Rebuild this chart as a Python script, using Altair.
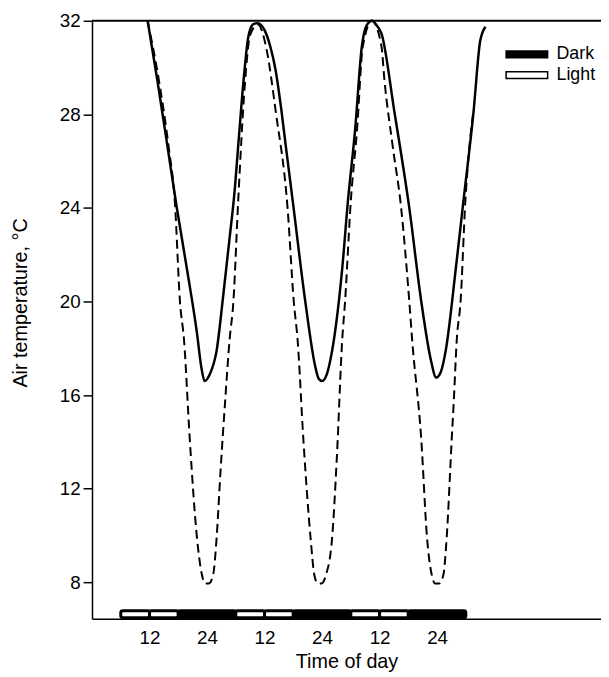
import altair as alt
import pandas as pd

# ---- values ----
# solid curve: time (h, continuous over three days) / air temperature (°C)
solid_time = [11.6, 13.6, 15.7, 17.7, 19.8, 21.9, 22.8, 23.5, 24.6, 26.0, 27.4, 28.7, 29.7,
              30.6, 31.6, 32.6, 33.6, 34.6, 36.0, 37.2, 38.3, 39.5, 40.4, 42.0, 44.5, 46.6,
              47.3, 48.0, 49.0, 50.1, 52.2, 53.4, 54.9, 56.3, 57.3, 58.4, 59.4, 60.4, 63.1,
              66.2, 68.7, 70.7, 71.8, 72.8, 73.8, 75.9, 77.5, 79.6, 81.0, 82.1]
solid_temp = [32.0, 29.5, 26.7, 24.0, 21.4, 18.65, 17.2, 16.6, 16.9, 17.9, 20.3, 22.7, 24.6,
              26.9, 29.4, 31.3, 31.85, 31.9, 31.6, 30.9, 29.9, 28.2, 26.7, 24.1, 20.0, 17.2,
              16.7, 16.6, 16.9, 17.9, 21.4, 24.3, 27.35, 30.9, 31.8, 32.0, 31.8, 31.45, 28.1,
              24.0, 20.0, 17.5, 16.75, 17.0, 17.9, 21.4, 24.3, 28.1, 31.15, 31.75]

# dashed curve
dashed_time = [11.6, 14.0, 16.0, 17.3, 18.35, 19.2, 20.4, 21.9, 22.9, 23.6, 24.4, 25.3, 26.0,
               26.8, 27.8, 28.7, 29.5, 30.5, 31.9, 33.0, 34.6,
               36.3, 38.35, 40.8, 42.1, 42.9, 44.1, 45.6, 46.4, 47.1, 47.9, 48.8, 50.1, 51.1,
               52.2, 52.8, 54.0, 55.3, 56.5, 58.4,
               60.4, 61.0, 62.7, 64.5, 66.2, 66.8, 68.7, 69.9, 70.9, 71.6, 72.4, 73.3, 74.0,
               75.05, 75.5, 76.1, 76.9, 77.9, 78.6, 79.5]
dashed_temp = [32.0, 29.4, 26.6, 24.2, 20.0, 18.35, 14.1, 9.9, 8.35, 7.95, 7.95, 8.35, 9.9,
               12.7, 15.8, 18.35, 20.0, 24.3, 29.3, 31.4, 31.85,
               30.9, 28.1, 24.0, 20.0, 18.35, 14.1, 9.9, 8.3, 7.95, 7.95, 8.3, 9.9, 13.4,
               18.35, 20.0, 24.3, 27.35, 30.9, 32.0,
               30.9, 29.5, 26.7, 24.0, 20.0, 18.35, 14.1, 9.9, 8.3, 7.95, 7.95, 8.3, 9.9,
               14.1, 15.8, 18.35, 20.0, 24.3, 26.3, 28.0]

# light / dark bar along the time axis
seg_start = [6, 12, 18, 30, 36, 42, 54, 60, 66]
seg_end = [12, 18, 30, 36, 42, 54, 60, 66, 78]
seg_phase = ["Light", "Light", "Dark", "Light", "Light", "Dark", "Light", "Light", "Dark"]
legend_labels = ["Dark", "Light"]
legend_colors = ["black", "white"]

y_ticks = [8, 12, 16, 20, 24, 28, 32]
x_ticks = [12, 24, 36, 48, 60, 72]
x_tick_labels = ["12", "24", "12", "24", "12", "24"]
top_value = [32]

x_domain = [0, 106.2]
y_domain = [6.44, 32]

FONT = "Liberation Sans"

solid_df = pd.DataFrame({"t": solid_time, "temp": solid_temp})
dashed_df = pd.DataFrame({"t": dashed_time, "temp": dashed_temp})
seg_df = pd.DataFrame({"start": seg_start, "end": seg_end, "phase": seg_phase})
top_df = pd.DataFrame({"v": top_value})

label_expr = " : ".join(
    f"datum.value == {v} ? '{l}'" for v, l in zip(x_ticks, x_tick_labels)
) + " : ''"

x_scale = alt.Scale(domain=x_domain, nice=False, zero=False)
y_scale = alt.Scale(domain=y_domain, nice=False, zero=False)

x_axis = alt.Axis(
    values=x_ticks, labelExpr=label_expr, ticks=False, tickSize=0, labelPadding=10,
    grid=False, title="Time of day", titleY=49, titleBaseline="alphabetic",
    labelFontSize=19, titleFontSize=20,
)
y_axis = alt.Axis(
    values=y_ticks, tickSize=9, labelPadding=3, grid=False,
    title="Air temperature, °C", titleAngle=-90, titleX=-66, titleY=285,
    titleBaseline="alphabetic", titleAlign="center",
    labelFontSize=19, titleFontSize=20,
)

top_rule = alt.Chart(top_df).mark_rule(color="black", strokeWidth=2).encode(
    y=alt.Y("v:Q", scale=y_scale, axis=y_axis)
)

bars = alt.Chart(seg_df).mark_rect(stroke="black", strokeWidth=3, cornerRadius=2).encode(
    x=alt.X("start:Q", scale=x_scale, axis=x_axis),
    x2="end:Q",
    y=alt.value(597),
    y2=alt.value(604),
    fill=alt.Fill(
        "phase:N",
        scale=alt.Scale(domain=legend_labels, range=legend_colors),
        legend=alt.Legend(
            title=None, orient="none", legendX=431, legendY=25,
            symbolType="M-3,-0.5H3V0.5H-3Z", symbolSize=196, symbolOffset=0,
            symbolStrokeColor="black", symbolStrokeWidth=1.5,
            labelFontSize=18, labelFont=FONT, labelOffset=21, rowPadding=3, padding=0,
        ),
    ),
)

solid = alt.Chart(solid_df).mark_line(
    color="black", strokeWidth=2.5, interpolate="monotone"
).encode(
    x=alt.X("t:Q", scale=x_scale, axis=x_axis),
    y=alt.Y("temp:Q", scale=y_scale, axis=y_axis),
)

dashed = alt.Chart(dashed_df).mark_line(
    color="black", strokeWidth=2, strokeDash=[9, 5], interpolate="monotone"
).encode(
    x=alt.X("t:Q", scale=x_scale, axis=x_axis),
    y=alt.Y("temp:Q", scale=y_scale, axis=y_axis),
)

chart = alt.layer(top_rule, bars, dashed, solid).properties(
    width=515,
    height=605,
    autosize=alt.AutoSizeParams(type="none"),
    padding={"left": 85, "top": 9, "right": 0, "bottom": 54},
).configure(
    font=FONT,
).configure_axis(
    domainColor="black", domainWidth=1.5, tickColor="black", tickWidth=1.5,
    labelColor="black", titleColor="black", labelFont=FONT, titleFont=FONT,
    titleFontWeight="normal",
).configure_legend(
    labelColor="black",
).configure_view(
    stroke=None,
)

chart.save("out.html", embed_options={"renderer": "svg", "actions": False})
